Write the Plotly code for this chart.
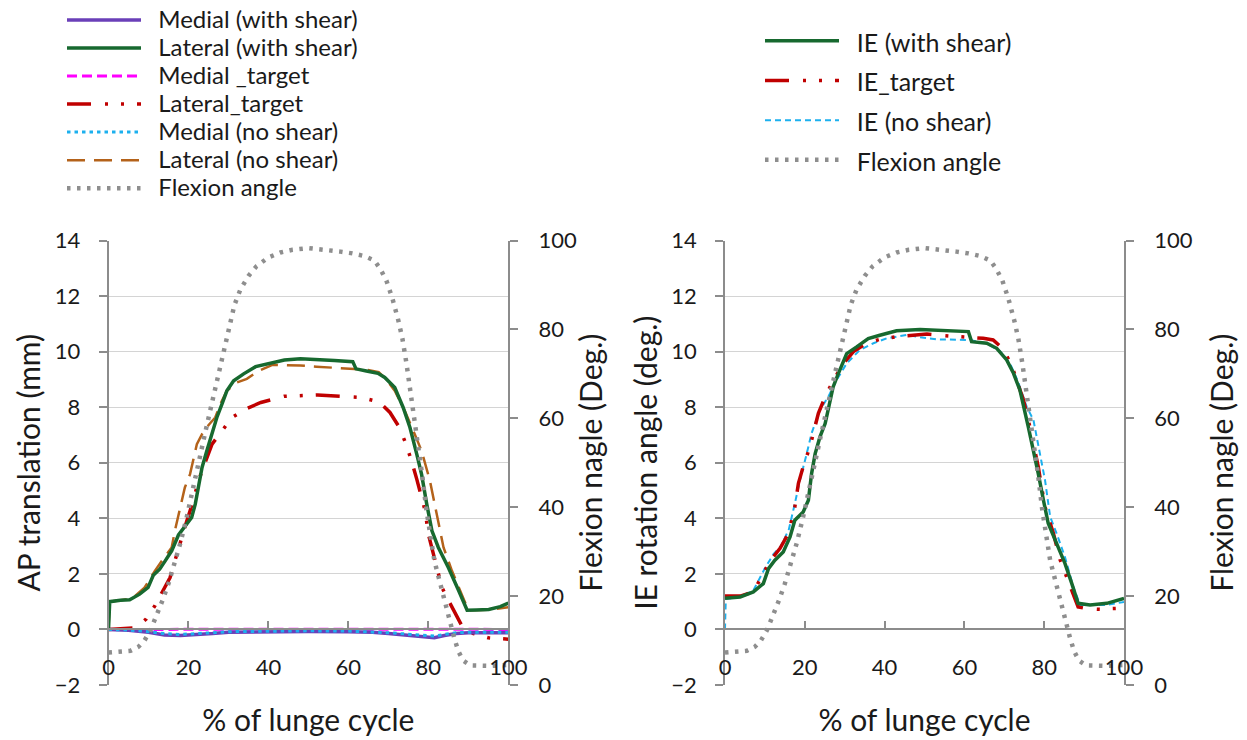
import plotly.graph_objects as go

W, H = 1247, 740
FONT = "Lato"
TXT = "#1a1a1a"
AX = "#8c8c8c"
GRID = "#d4d4d4"

# ---------------- data: left chart (AP translation, mm) ----------------
lat_shear_x = [0, 0.3, 3, 5.3, 7.8, 9.9, 11.2, 12.8, 14.1, 15.8, 17.5, 19.1, 20.8, 21.7, 22.5, 23.4,
               24.6, 25.9, 27.1, 28.4, 29.6, 31.3, 33.8, 36.8, 40.5, 44, 48, 52, 56.5, 61.1, 61.9,
               64.5, 67.4, 69.1, 71.6, 73.7, 75.4, 77.1, 78.3, 79.6, 80.9, 82.5, 85, 87.6, 89.7, 92,
               95.1, 98, 100]
lat_shear_y = [0, 1.0, 1.05, 1.07, 1.27, 1.51, 1.95, 2.17, 2.45, 2.83, 3.4, 3.73, 4.03, 4.51, 5.11,
               5.83, 6.43, 7.03, 7.63, 8.12, 8.59, 8.95, 9.2, 9.46, 9.6, 9.7, 9.74, 9.72, 9.68, 9.64,
               9.38, 9.3, 9.22, 9.07, 8.71, 7.99, 7.27, 6.31, 5.59, 4.51, 3.55, 2.95, 2.23, 1.39, 0.69,
               0.7, 0.72, 0.82, 0.95]

lat_noshear_x = [0, 0.3, 3, 6, 9, 11.6, 13.5, 15.8, 16.6, 17.9, 19.1, 20.4, 22.1, 23.4, 25, 26.7, 28,
                 29.6, 32.1, 34.6, 37.5, 41, 44, 48, 52, 56.5, 60.5, 64.9, 67.6, 69.5, 71.6, 74.1,
                 76.6, 78.3, 80.4, 82.1, 83.8, 85.9, 88, 90, 93, 96, 100]
lat_noshear_y = [0, 1.0, 1.05, 1.12, 1.5, 2.11, 2.5, 2.95, 3.55, 4.39, 5.11, 5.59, 6.67, 7.03, 7.35,
                 7.63, 8.12, 8.59, 8.89, 9.02, 9.3, 9.52, 9.52, 9.5, 9.46, 9.41, 9.38, 9.34, 9.26,
                 9.0, 8.59, 7.87, 7.03, 6.43, 5.35, 4.15, 2.95, 2.11, 1.39, 0.69, 0.7, 0.72, 0.8]

lat_target_x = [0, 3, 6, 8, 9.4, 11.6, 13.7, 15.4, 16.6, 18.3, 19.6, 21.2, 22.5, 23.7, 25.9, 28.4,
                30.9, 34.3, 38.1, 43.9, 48.1, 52.3, 58.2, 63.2, 66.5, 68.3, 70.4, 72.5, 74.1, 75.8,
                77.1, 78.3, 79.2, 80, 81.3, 83.4, 85.1, 86.8, 88.5, 91.3, 95, 100]
lat_target_y = [0, 0.02, 0.05, 0.2, 0.37, 0.85, 1.39, 1.87, 2.47, 3.31, 3.91, 4.63, 5.35, 5.83,
                6.67, 7.15, 7.63, 7.93, 8.17, 8.39, 8.41, 8.44, 8.39, 8.35, 8.23, 8.11, 7.81, 7.33,
                6.79, 6.07, 5.41, 4.81, 4.27, 3.43, 2.71, 1.51, 1.03, 0.55, 0.1, -0.15, -0.3, -0.35]

med_x = [0, 5, 10, 14, 18, 22, 26, 30, 40, 50, 60, 66, 70, 74, 78, 81.5, 84, 87, 90, 95, 100]
med_shear_y = [0, -0.03, -0.1, -0.2, -0.22, -0.2, -0.15, -0.1, -0.08, -0.07, -0.08, -0.1, -0.15,
               -0.2, -0.25, -0.3, -0.22, -0.15, -0.12, -0.12, -0.12]
med_noshear_y = [0, -0.02, -0.08, -0.15, -0.18, -0.16, -0.12, -0.08, -0.06, -0.05, -0.06, -0.08,
                 -0.12, -0.16, -0.2, -0.24, -0.18, -0.12, -0.1, -0.1, -0.1]
med_target_x = [0, 25, 50, 75, 100]
med_target_y = [0.0, 0.01, 0.01, 0.01, 0.0]

# ---------------- data: flexion angle (deg), both charts ----------------
flex_x = [0, 3, 5.5, 7.5, 9, 10.5, 12, 13.5, 15, 16.5, 18, 19.5, 21, 22.5, 24, 25.5, 27, 28.5, 30,
          31.5, 33, 35, 37, 40, 43, 46, 50, 54, 58, 61, 64, 66.5, 68, 69.5, 71, 72.5, 73.5, 74.5,
          75.5, 76.5, 77.5, 78.5, 79.5, 80.5, 81.5, 82.5, 83.5, 84.5, 85.5, 86.5, 87.5, 88.7, 90.5,
          93, 96, 100]
flex_y = [7.3, 7.4, 7.7, 8.6, 10, 12.3, 15.5, 19, 22.8, 27, 32, 37.5, 44, 50.5, 56, 62, 68, 74.5,
          80.5, 85.5, 89, 92, 94.2, 96.2, 97.3, 97.9, 98.3, 98.0, 97.5, 97.1, 96.5, 95.5, 93.6, 91,
          87, 82, 78, 72.5, 66.5, 60.5, 54.5, 47, 39.5, 33, 28, 24.5, 20.8, 17, 13.8, 10.5, 7.6,
          5.5, 4.4, 4.3, 4.3, 4.5]

# ---------------- data: right chart (IE rotation, deg) ----------------
ie_shear_x = [0, 3.8, 7.1, 9.6, 10.9, 12.5, 14.6, 16.3, 17.5, 19.6, 20.9, 21.7, 22.6, 23.8, 25.1,
              26.3, 27.1, 28.4, 30.5, 33, 35.9, 38.8, 43, 48.9, 57.2, 61, 61.8, 65.6, 68.1, 70.6,
              72.3, 73.9, 76, 77.3, 78.5, 79.8, 81, 83.1, 85.2, 86.9, 88.5, 91.5, 95.7, 100]
ie_shear_y = [1.12, 1.17, 1.35, 1.65, 2.19, 2.49, 2.79, 3.33, 3.93, 4.23, 4.65, 5.61, 6.33, 6.93,
              7.41, 8.13, 8.73, 9.21, 9.93, 10.17, 10.47, 10.59, 10.75, 10.8, 10.75, 10.72, 10.36,
              10.3, 10.12, 9.7, 9.22, 8.62, 7.3, 6.46, 5.62, 4.66, 3.82, 3.1, 2.38, 1.66, 0.94,
              0.88, 0.94, 1.12]

ie_target_x = [0, 3.8, 7.1, 10, 12.1, 13.8, 15.9, 17.5, 18.4, 19.6, 21.3, 23.4, 25.1, 27.2, 29.7,
               32.2, 35.5, 38.8, 43, 50.6, 56.4, 64.7, 67.2, 69.7, 71.8, 74.8, 76.4, 78.5, 80.2,
               82.3, 84, 86.5, 88.5, 91, 94.8, 97, 99]
ie_target_y = [1.2, 1.2, 1.35, 2.13, 2.61, 2.92, 3.46, 4.41, 5.26, 5.86, 6.58, 7.78, 8.38, 8.98,
               9.58, 10.0, 10.3, 10.44, 10.54, 10.63, 10.56, 10.48, 10.42, 10.1, 9.52, 8.26, 7.3,
               5.86, 4.41, 3.46, 2.5, 1.53, 0.81, 0.74, 0.72, 0.75, 0.76]

ie_noshear_x = [0, 0.2, 3.8, 7.1, 10, 12.1, 14, 16, 17.5, 18.8, 20.5, 21.7, 23.8, 25.9, 28, 30.5,
                33.8, 37.2, 40.5, 45.5, 48.9, 53, 61.4, 65.6, 69, 71.4, 73.5, 75.6, 77.3, 79, 80.2,
                81.5, 83.1, 85.2, 87.3, 89, 95.7, 100]
ie_noshear_y = [0, 1.1, 1.17, 1.4, 2.2, 2.7, 3.0, 3.6, 4.53, 5.38, 6.34, 7.06, 7.9, 8.38, 8.98,
                9.58, 10.06, 10.3, 10.48, 10.6, 10.52, 10.44, 10.42, 10.3, 10.0, 9.58, 8.9, 8.02,
                7.54, 6.34, 5.38, 4.05, 3.46, 2.61, 1.53, 0.88, 0.88, 0.99]

x_ticks = [0, 20, 40, 60, 80, 100]
left_ticks = [-2, 0, 2, 4, 6, 8, 10, 12, 14]
flex_ticks = [0, 20, 40, 60, 80, 100]

# ---------------- styles ----------------
GREEN = "#17692f"
RED = "#c00000"
BROWN = "#b4621a"
PURPLE = "#6a3fb8"
MAGENTA = "#ff00ff"
CYAN = "#1cb0ee"
GRAY = "#8e8e8e"
DASHDOTDOT = "24px,14px,3px,13px,3px,13px"
LONGDASH = "18px,9px"
MAGDASH = "10px,5px"
SQDOT = "3.5px,4px"
SHORTDASH = "6px,4px"
ROUNDDOT = "3.5px,6.5px"


def px_x(p):
    return p / W


def px_y(p):
    return 1 - p / H


LX = [px_x(108.5), px_x(508.3)]
RX = [px_x(725), px_x(1124)]
YD = [px_y(685), px_y(240.5)]
POS0 = YD[0] + (0 - (-2)) / 16 * (YD[1] - YD[0])

fig = go.Figure()
PAD = "\u00a0\u00a0"


def add(x, y, name, color, width, dash, xa, ya, legend, rank, size):
    fig.add_trace(go.Scatter(
        x=x, y=y, mode="lines",
        name=f'<span style="font-size:{size}px">{PAD}{name}</span>',
        line=dict(color=color, width=width, dash=dash),
        xaxis=xa, yaxis=ya, legend=legend, legendrank=rank, hoverinfo="skip"))


# left chart (drawing order), legend order via legendrank
add(lat_noshear_x, lat_noshear_y, "Lateral (no shear)", BROWN, 2.5, LONGDASH, "x", "y", "legend", 6, 24)
add(lat_target_x, lat_target_y, "Lateral_target", RED, 3.5, DASHDOTDOT, "x", "y", "legend", 4, 24)
add(med_target_x, med_target_y, "Medial _target", MAGENTA, 3, MAGDASH, "x", "y", "legend", 3, 24)
add(med_x, med_shear_y, "Medial (with shear)", PURPLE, 3.5, "solid", "x", "y", "legend", 1, 24)
add(med_x, med_noshear_y, "Medial (no shear)", CYAN, 3, SQDOT, "x", "y", "legend", 5, 24)
add(lat_shear_x, lat_shear_y, "Lateral (with shear)", GREEN, 3.5, "solid", "x", "y", "legend", 2, 24)
add(flex_x, flex_y, "Flexion angle", GRAY, 4.5, ROUNDDOT, "x", "y2", "legend", 7, 24)

# right chart
add(ie_noshear_x, ie_noshear_y, "IE (no shear)", CYAN, 2, SHORTDASH, "x2", "y3", "legend2", 3, 25)
add(ie_target_x, ie_target_y, "IE_target", RED, 3.5, DASHDOTDOT, "x2", "y3", "legend2", 2, 25)
add(ie_shear_x, ie_shear_y, "IE (with shear)", GREEN, 3.5, "solid", "x2", "y3", "legend2", 1, 25)
add(flex_x, flex_y, "Flexion angle", GRAY, 4.5, ROUNDDOT, "x2", "y4", "legend2", 4, 25)

tickfont = dict(family=FONT, size=22, color=TXT)
titlefont = dict(family=FONT, size=30, color=TXT)


def xaxis(domain):
    return dict(domain=domain, range=[0, 100], tickvals=x_ticks, showgrid=False, zeroline=False,
                showline=True, linecolor=AX, linewidth=1.5, ticks="inside", ticklen=8,
                tickcolor=AX, tickwidth=1.5, tickfont=tickfont, anchor="free", position=POS0,
                ticklabelstandoff=18,
                title=dict(text="% of lunge cycle", font=titlefont, standoff=30))


def yleft(anchor, title, standoff):
    return dict(domain=YD, range=[-2, 14], tickvals=left_ticks, anchor=anchor, showline=True,
                linecolor=AX, linewidth=1.5, ticks="outside", ticklen=8, tickcolor=AX,
                tickwidth=1.5, showgrid=True, gridcolor=GRID, gridwidth=1.3, zeroline=False,
                tickfont=tickfont, ticklabelstandoff=14,
                title=dict(text=title, font=titlefont, standoff=standoff))


def yright(anchor, overlay, standoff):
    return dict(range=[0, 100], tickvals=flex_ticks, anchor=anchor, overlaying=overlay,
                side="right", showline=True, linecolor=AX, linewidth=1.5, ticks="outside",
                ticklen=8, tickcolor=AX, tickwidth=1.5, showgrid=False, zeroline=False,
                tickfont=tickfont, ticklabelstandoff=16,
                title=dict(text="Flexion nagle (Deg.)", font=titlefont, standoff=standoff))


legend_common = dict(bgcolor="rgba(0,0,0,0)", borderwidth=0, itemwidth=74, orientation="v",
                     xanchor="left", yanchor="top", tracegroupgap=0, itemclick=False,
                     itemdoubleclick=False)

fig.update_layout(
    width=W, height=H, margin=dict(l=0, r=0, t=0, b=0, autoexpand=False),
    paper_bgcolor="white", plot_bgcolor="white",
    font=dict(family=FONT, color=TXT),
    showlegend=True,
    xaxis=xaxis(LX),
    yaxis=yleft("x", "AP translation (mm)", 5),
    yaxis2=yright("x", "y", 5),
    xaxis2=xaxis(RX),
    yaxis3=yleft("x2", "IE rotation angle (deg.)", 5),
    yaxis4=yright("x2", "y3", 20),
    legend=dict(x=px_x(62), y=px_y(1), font=dict(family=FONT, size=19.25, color=TXT),
                **legend_common),
    legend2=dict(x=px_x(760), y=px_y(16), font=dict(family=FONT, size=28.2, color=TXT),
                 **legend_common),
)

fig.write_html("out.html")
